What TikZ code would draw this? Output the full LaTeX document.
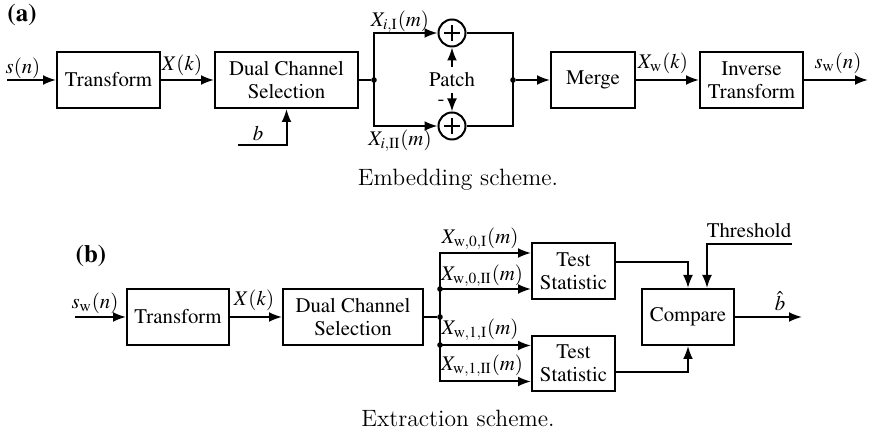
\documentclass[tikz,border=0pt]{standalone}
\usepackage{mathptmx}
\usepackage[no-math]{fontspec}
% Times text for the block diagram, Latin Modern for the captions
\newcommand{\tms}{\fontencoding{OT1}\fontfamily{ptm}\selectfont}
\usetikzlibrary{arrows.meta,calc}
\tikzset{
  wire/.style={line width=1pt},
  arr/.style={wire,-{Latex[length=6.5pt,width=5pt]}},
  blk/.style={draw,line width=1pt,inner sep=0pt,align=center,
    font=\tms\fontsize{10.4}{11.6}\selectfont},
  lbl/.style={inner sep=0pt,font=\tms\fontsize{10.4}{12}\selectfont},
  adder/.style={draw,line width=1pt,circle,minimum size=13.5pt,inner sep=0pt},
  captxt/.style={inner sep=0pt,font=\fontsize{11.8}{14}\selectfont},
  tag/.style={inner sep=0pt,font=\tms\bfseries\fontsize{12.5}{14}\selectfont},
  jdot/.style={circle,fill,inner sep=0pt,minimum size=2.8pt}
}
\newcommand{\plusin}[1]{%
  \draw[line width=1pt] ([yshift=-3.8pt]#1.center) -- ([yshift=3.8pt]#1.center)
                        ([xshift=-3.8pt]#1.center) -- ([xshift=3.8pt]#1.center);}
\begin{document}
\begin{tikzpicture}[x=0.5pt,y=-0.5pt]
\useasboundingbox (0,0) rectangle (869,431);

% ---------------- (a) embedding ----------------
\node[tag] (taga) at (22,15) {(a)};
\coordinate (ina) at (7,80);
\node[blk,minimum width=51.5pt,minimum height=28pt] (tr1) at (108.5,80) {Transform};
\node[blk,minimum width=71.5pt,minimum height=28pt] (dcs1) at (286.5,80) {Dual Channel\\Selection};
\node[jdot] (j1) at (374,80) {};
\node[adder] (add1) at (452,33) {};
\node[adder] (add2) at (452,126) {};
\plusin{add1}
\plusin{add2}
\node[lbl,inner ysep=2.5pt] (patch) at (452,80) {Patch};
\node[jdot] (j2) at (513,80) {};
\node[blk,minimum width=42pt,minimum height=28pt] (merge) at (593,80) {Merge};
\node[blk,minimum width=51.5pt,minimum height=28pt] (inv) at (751.5,80) {Inverse\\Transform};
\coordinate (outa) at (868,80);
\coordinate (bin) at (238,145);

\draw[arr] (ina) -- (tr1);
\draw[arr] (tr1) -- (dcs1);
\draw[wire] (dcs1) -- (j1);
\draw[arr] (j1.center) |- (add1);
\draw[arr] (j1.center) |- (add2);
\draw[arr] (patch) -- (add1);
\draw[arr] (patch) -- (add2);
\draw[wire] (add1) -| (j2.center);
\draw[wire] (add2) -| (j2.center);
\draw[arr] (j2) -- (merge);
\draw[arr] (merge) -- (inv);
\draw[arr] (inv) -- (outa);
\draw[arr] (bin) -| (dcs1.south);

\node[lbl] (sn) at (23,68) {$s(n)$};
\node[lbl] (xk1) at (182,65) {$X(k)$};
\node[lbl] (bl) at (258,133) {$b$};
\node[lbl] (xi1) at (400,22) {$X_{i,\mathrm{I}}(m)$};
\node[lbl] (xi2) at (400,141) {$X_{i,\mathrm{II}}(m)$};
\node[lbl] (minus) at (441,103) {-};
\node[lbl] (xwk) at (663,63) {$X_{\mathrm{w}}(k)$};
\node[lbl] (swn1) at (838,63) {$s_{\mathrm{w}}(n)$};
\node[captxt] (capa) at (458,180) {Embedding scheme.};

% ---------------- (b) extraction ----------------
\node[tag] (tagb) at (91,256) {(b)};
\coordinate (inb) at (75,317);
\node[blk,minimum width=51pt,minimum height=28pt] (tr2) at (178,317) {Transform};
\node[blk,minimum width=70pt,minimum height=28pt] (dcs2) at (353,317) {Dual Channel\\Selection};
\node[jdot] (jm) at (440,317) {};
\node[blk,minimum width=41.5pt,minimum height=28pt] (ts1) at (573.5,271) {Test\\Statistic};
\node[blk,minimum width=41.5pt,minimum height=27.5pt] (ts2) at (573.5,363.5) {Test\\Statistic};
\node[blk,minimum width=46pt,minimum height=28pt] (cmp) at (688,317) {Compare};
\node[lbl,anchor=south,inner ysep=3pt] (thr) at (749,244) {Threshold};
\coordinate (outb) at (802,317);

\draw[arr] (inb) -- (tr2);
\draw[arr] (tr2) -- (dcs2);
\draw[wire] (dcs2) -- (jm);
\draw[arr] (jm.center) |- ([yshift=9pt]ts1.west);
\draw[arr] (jm.center) |- ([yshift=-9pt]ts1.west);
\draw[arr] (jm.center) |- ([yshift=9pt]ts2.west);
\draw[arr] (jm.center) |- ([yshift=-9pt]ts2.west);
\node[jdot] (jb1) at (440,289) {};
\node[jdot] (jb2) at (440,345) {};
\draw[arr] ([yshift=4.5pt]ts1.east) -| (cmp.north);
\draw[arr] ([yshift=-4.5pt]ts2.east) -| (cmp.south);
\draw[arr] (thr.south east) -| ([xshift=9.5pt]cmp.north);
\draw[arr] (cmp) -- (outb);

\node[lbl] (swn2) at (95,303) {$s_{\mathrm{w}}(n)$};
\node[lbl] (xk2) at (254,300) {$X(k)$};
\node[lbl] (x0a) at (480,239) {$X_{\mathrm{w},0,\mathrm{I}}(m)$};
\node[lbl] (x0b) at (482,276) {$X_{\mathrm{w},0,\mathrm{II}}(m)$};
\node[lbl] (x1a) at (480,330) {$X_{\mathrm{w},1,\mathrm{I}}(m)$};
\node[lbl] (x1b) at (482,366) {$X_{\mathrm{w},1,\mathrm{II}}(m)$};
\node[lbl,anchor=south] (bhat) at (780,311) {$\hat{b}$};
\node[captxt] (capb) at (458,418) {Extraction scheme.};
\end{tikzpicture}
\end{document}
